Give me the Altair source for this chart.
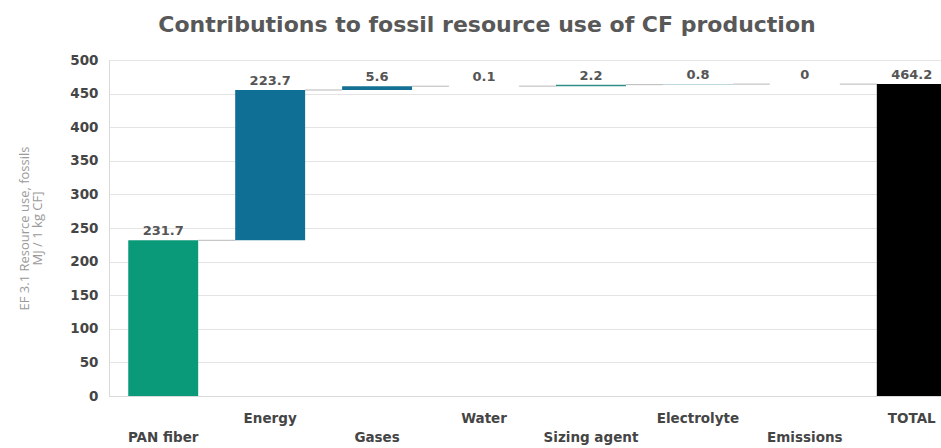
import altair as alt
import pandas as pd

# Waterfall contributions (MJ per kg CF)
categories = ["PAN fiber", "Energy", "Gases", "Water", "Sizing agent",
              "Electrolyte", "Emissions", "TOTAL"]
values = [231.7, 223.7, 5.6, 0.1, 2.2, 0.8, 0, 464.2]
colors = ["#0b9a79", "#106f95", "#136f93", "#9aa4a8", "#2f8e88",
          "#a9c9d2", "#cfd6d8", "#000000"]
lower_row = ["PAN fiber", "Gases", "Sizing agent", "Emissions"]
y_ticks = [0, 50, 100, 150, 200, 250, 300, 350, 400, 450, 500]

FONT = "DejaVu Sans"

# running start/end of each step; TOTAL stands on the baseline
starts, ends = [], []
level = 0.0
for cat, v in zip(categories, values):
    if cat == "TOTAL":
        starts.append(0.0)
        ends.append(v)
    else:
        starts.append(level)
        level += v
        ends.append(level)

df = pd.DataFrame({
    "cat": categories,
    "value": values,
    "start": starts,
    "end": ends,
    "color": colors,
})
df["label"] = df["value"].map(lambda v: f"{v:g}")
df["top"] = df[["start", "end"]].max(axis=1)

# connectors between consecutive steps
conn = pd.DataFrame({
    "cat": categories[:-1],
    "next": categories[1:],
    "level": ends[:-1],
})

xscale = alt.Scale(domain=categories, range=[0, 857],
                   paddingInner=0.346, paddingOuter=0.18)
yscale = alt.Scale(domain=[0, 500], nice=False)

label_expr = ("indexof(" + str(lower_row) + ", datum.label) >= 0"
              " ? ['', datum.label] : datum.label")

x_axis = alt.Axis(labelAngle=0, labelExpr=label_expr, labelPadding=15,
                  labelFont=FONT, labelFontSize=13.5, labelFontWeight="bold",
                  labelColor="#454545", labelLineHeight=19, ticks=False,
                  domainColor="#d9d9d9", labelBaseline="top")

y_axis = alt.Axis(values=y_ticks, ticks=False, labelPadding=11,
                  labelFont=FONT, labelFontSize=13.5, labelFontWeight="bold",
                  labelColor="#454545", gridColor="#e4e4e4",
                  domainColor="#d9d9d9", titleFont="Open Sans",
                  titleFontSize=13, titleFontWeight="normal",
                  titleColor="#9a9a9a", titlePadding=25, titleLineHeight=13)
y_title = ["EF 3.1 Resource use, fossils", "MJ / 1 kg CF]"]


def xenc(field):
    return alt.X(field, scale=xscale, sort=categories, title=None, axis=x_axis)


def yenc(field):
    return alt.Y(field, scale=yscale, title=y_title, axis=y_axis)


bars = alt.Chart(df).mark_bar().encode(
    x=xenc("cat:N"),
    y=yenc("start:Q"),
    y2="end:Q",
    color=alt.Color("color:N", scale=None),
)

connectors = alt.Chart(conn).mark_rule(
    color="#b8b8b8", strokeWidth=1, xOffset=35, x2Offset=-35
).encode(
    x=xenc("cat:N"),
    x2="next:N",
    y=yenc("level:Q"),
)

labels = alt.Chart(df).mark_text(
    baseline="alphabetic", dy=-5, font=FONT, fontSize=13,
    fontWeight="bold", color="#555555"
).encode(
    x=xenc("cat:N"),
    y=yenc("top:Q"),
    text="label:N",
)

chart = alt.layer(connectors, bars, labels).properties(
    width=832,
    height=336,
    autosize="none",
    padding={"left": 109, "top": 60, "right": 0, "bottom": 52},
    title=alt.TitleParams(
        "Contributions to fossil resource use of CF production",
        font=FONT, fontSize=22, fontWeight="bold", color="#585858",
        anchor="middle", dx=-38, offset=16,
    ),
).configure_view(stroke=None)

chart.save("out.html", embed_options={"renderer": "svg", "actions": False})
